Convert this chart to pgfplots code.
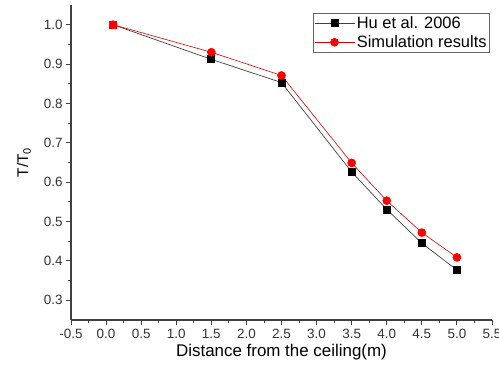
\documentclass[border=0pt]{standalone}
\usepackage{fontspec}
\setmainfont{Liberation Sans}
\usepackage{pgfplots}
\pgfplotsset{compat=1.18}
\begin{document}
\begin{tikzpicture}[x=1bp,y=1bp]
\path[use as bounding box] (-71,-45) rectangle (428,320);
\begin{axis}[
  at={(0,0)}, anchor=south west,
  scale only axis,
  width=421bp, height=315bp,
  xmin=-0.5, xmax=5.5, ymin=0.25, ymax=1.05,
  axis lines*=left,
  axis line style={line width=1.2pt, black!75},
  xtick={-0.5,0,...,5.5},
  ytick={0.3,0.4,...,1.0},
  minor x tick num=1,
  minor y tick num=1,
  tick align=outside,
  major tick length=5bp,
  minor tick length=3bp,
  tick style={line width=0.9pt, black!75},
  /pgf/number format/assume math mode=true,
  /pgf/number format/fixed,
  /pgf/number format/fixed zerofill,
  /pgf/number format/precision=1,
  ticklabel style={font=\fontsize{13.5}{14}\selectfont, text=black!80},
  xticklabel style={yshift=-1bp},
  xlabel={Distance from the ceiling(m)},
  ylabel={T/T\textsubscript{0}},
  xlabel style={font=\fontsize{17}{18}\selectfont, yshift=2bp},
  ylabel style={font=\fontsize{15.5}{18}\selectfont, yshift=6bp},
  legend image code/.code={\draw[mark repeat=2,mark phase=2,#1] plot coordinates {(0bp,0bp) (20bp,0bp) (40bp,0bp)};},
  legend style={at={(rel axis cs:0.995,0.975)}, anchor=north east,
    font=\fontsize{16.5}{18}\selectfont, draw=black!60, line width=0.6pt,
    inner xsep=1bp, inner ysep=1bp, row sep=2bp, cells={anchor=west}},
  legend cell align=left,
  clip=false,
]
\addplot[black!75, line width=0.7pt, mark=square*, mark size=3.5bp,
  mark options={fill=black, draw=black}]
  coordinates {(0.1,1.0) (1.5,0.912) (2.5,0.853) (3.5,0.626) (4.0,0.531) (4.5,0.445) (5.0,0.377)};
\addlegendentry{Hu et al. 2006}
\addplot[red!85!black, line width=0.6pt, mark=*, mark size=4bp,
  mark options={fill=red, draw=red}]
  coordinates {(0.1,1.0) (1.5,0.930) (2.5,0.871) (3.5,0.649) (4.0,0.553) (4.5,0.472) (5.0,0.409)};
\addlegendentry{Simulation results}
\addplot[only marks, mark=square*, mark size=3.5bp, red, forget plot] coordinates {(0.1,1.0)};
\end{axis}
\end{tikzpicture}
\end{document}
